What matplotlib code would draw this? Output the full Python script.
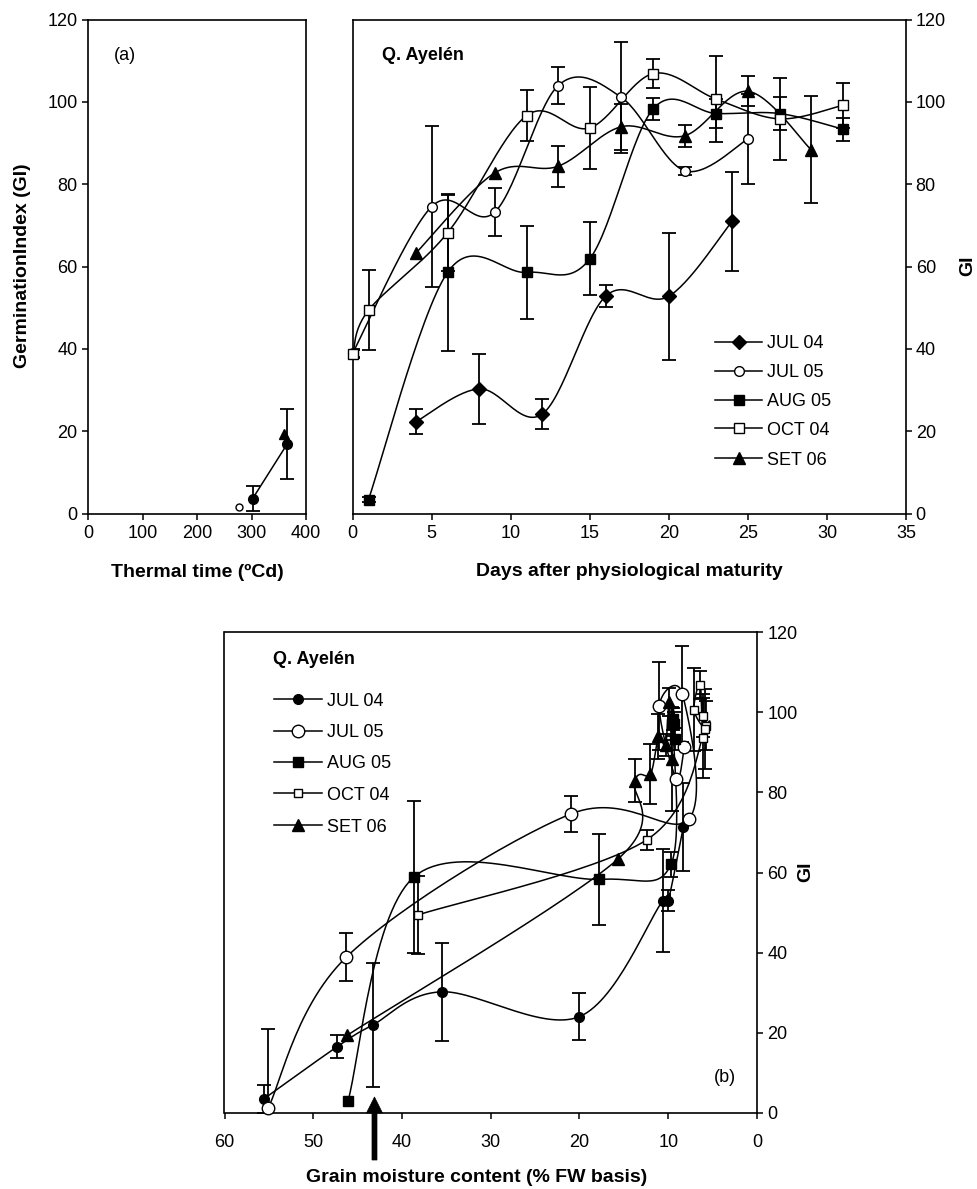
import numpy as np
import matplotlib
matplotlib.use("Agg")
import matplotlib.pyplot as plt
from matplotlib.lines import Line2D
from matplotlib.patches import Polygon
from matplotlib.transforms import Affine2D

plt.rcParams['font.family'] = ['Liberation Sans', 'DejaVu Sans']

# ---------------------------------------------------------------- data
series_names = ["JUL 04", "JUL 05", "AUG 05", "OCT 04", "SET 06"]

# (a) GI before physiological maturity vs thermal time
a_tt_jul04 = [302, 366]
a_gi_jul04 = [3.6, 17.0]
a_err_jul04 = [3.0, 8.5]
a_tt_jul05 = [277]
a_gi_jul05 = [1.6]
a_tt_set06 = [359]
a_gi_set06 = [19.3]

# top right: GI vs days after physiological maturity
days_jul04 = [4, 8, 12, 16, 20, 24]
gi_jul04 = [22.3, 30.3, 24.2, 52.8, 52.8, 71.0]
err_jul04 = [3.0, 8.5, 3.7, 2.7, 15.4, 12.0]

days_jul05 = [0, 5, 9, 13, 17, 21, 25]
gi_jul05 = [39.0, 74.6, 73.3, 104.0, 101.1, 83.3, 91.0]
err_jul05 = [1.0, 19.5, 5.8, 4.5, 13.5, 1.0, 11.0]

days_aug05 = [1, 6, 11, 15, 19, 23, 27, 31]
gi_aug05 = [3.4, 58.6, 58.6, 61.9, 98.3, 97.2, 97.2, 93.4]
err_aug05 = [0.6, 19.0, 11.3, 8.9, 2.7, 3.5, 4.0, 2.8]

days_oct04 = [0, 1, 6, 11, 15, 19, 23, 27, 31]
gi_oct04 = [38.7, 49.4, 68.2, 96.7, 93.7, 106.9, 100.7, 95.9, 99.2]
err_oct04 = [1.0, 9.7, 9.3, 6.2, 10.0, 3.5, 10.4, 10.0, 5.4]

days_set06 = [4, 9, 13, 17, 21, 25, 29]
gi_set06 = [63.3, 82.8, 84.4, 94.0, 91.8, 102.6, 88.4]
err_set06 = [0, 0, 5.0, 5.6, 2.7, 3.6, 13.0]

# (b) GI vs grain moisture content (% FW basis)
b_mc_jul04 = [55.6, 47.3, 43.3, 35.5, 20.0, 10.6, 10.0, 8.3]
b_gi_jul04 = [3.4, 16.5, 21.9, 30.2, 24.0, 53.0, 53.0, 71.4]
b_err_jul04 = [3.5, 2.8, 15.6, 12.3, 5.8, 12.8, 2.7, 11.0]

b_mc_jul05 = [55.1, 46.3, 21.0, 7.7, 8.4, 11.0, 9.1, 8.2]
b_gi_jul05 = [1.1, 38.8, 74.6, 73.3, 104.6, 101.6, 83.4, 91.3]
b_err_jul05 = [19.7, 6.0, 4.5, 0, 12.0, 11.0, 0, 0]

b_mc_aug05 = [46.1, 38.7, 17.8, 9.7, 9.5, 9.3, 9.6, 9.2]
b_gi_aug05 = [2.8, 58.8, 58.3, 62.0, 98.3, 97.2, 97.2, 93.4]
b_err_aug05 = [0, 19.0, 11.3, 3.0, 2.7, 3.0, 4.0, 2.8]

b_mc_oct04 = [38.2, 12.4, 5.7, 6.1, 6.4, 7.1, 5.9, 6.1]
b_gi_oct04 = [49.4, 68.2, 96.7, 93.7, 106.9, 100.7, 95.9, 99.2]
b_err_oct04 = [9.8, 2.5, 6.2, 10.0, 3.5, 10.4, 10.0, 5.4]

b_mc_set06 = [46.2, 15.7, 13.8, 12.0, 11.1, 10.3, 9.9, 9.6]
b_gi_set06 = [19.3, 63.3, 82.9, 84.6, 94.0, 91.8, 102.6, 88.4]
b_err_set06 = [0, 0, 5.4, 7.5, 5.6, 2.7, 3.6, 13.0]

arrow_moisture = 43.1

gi_ticks = [0, 20, 40, 60, 80, 100, 120]
tt_ticks = [0, 100, 200, 300, 400]
day_ticks = [0, 5, 10, 15, 20, 25, 30, 35]
mc_ticks = [60, 50, 40, 30, 20, 10, 0]

# ---------------------------------------------------------------- layout
W, H = 978, 1189
DPI = 100
fig = plt.figure(figsize=(W / DPI, H / DPI), dpi=DPI)
PIX = Affine2D().scale(1, -1).translate(0, H)   # top-left pixel coords
FS = 13
FSB = 14
LW = 1.1


def ax_at(x0, y0, x1, y1):
    return fig.add_axes([x0 / W, 1 - y1 / H, (x1 - x0) / W, (y1 - y0) / H])


def style_axes(ax):
    for s in ax.spines.values():
        s.set_linewidth(1.2)
    ax.tick_params(direction='out', length=4.5, width=1.1, labelsize=FS, colors='k')


def smooth_xy(ax, x, y, n=30):
    pts = ax.transData.transform(np.column_stack([x, y]))
    if len(pts) < 3:
        return np.asarray(x, float), np.asarray(y, float)
    P = np.vstack([pts[0], pts, pts[-1]])
    out = []
    t = np.linspace(0, 1, n, endpoint=False)[:, None]
    for i in range(1, len(P) - 2):
        p0, p1, p2, p3 = P[i - 1], P[i], P[i + 1], P[i + 2]
        c1 = p1 + (p2 - p0) / 6.0
        c2 = p2 - (p3 - p1) / 6.0
        seg = (1 - t) ** 3 * p1 + 3 * (1 - t) ** 2 * t * c1 + 3 * (1 - t) * t ** 2 * c2 + t ** 3 * p2
        out.append(seg)
    out.append(pts[-1][None, :])
    d = ax.transData.inverted().transform(np.vstack(out))
    return d[:, 0], d[:, 1]


def draw_series(ax, x, y, err, marker, ms, filled, smooth=True, mew=1.0):
    x = np.asarray(x, float)
    y = np.asarray(y, float)
    if len(x) > 1:
        sx, sy = smooth_xy(ax, x, y) if smooth else (x, y)
        ax.plot(sx, sy, color='k', lw=LW, zorder=2)
    if err is not None:
        e = np.asarray(err, float)
        m = e > 0
        if m.any():
            ax.errorbar(x[m], y[m], yerr=e[m], fmt='none', ecolor='k',
                        elinewidth=1.3, capsize=4.7, capthick=1.3, zorder=2)
    ax.plot(x, y, ls='none', marker=marker, ms=ms,
            mfc='k' if filled else 'white', mec='k', mew=mew, zorder=3, clip_on=False)


def legend_rows(x0, x1, xm, xt, ys, specs):
    for (label, marker, ms, filled), yy in zip(specs, ys):
        fig.add_artist(Line2D([x0, x1], [yy, yy], color='k', lw=LW, transform=PIX))
        fig.add_artist(Line2D([xm], [yy], marker=marker, ms=ms, ls='none',
                              mfc='k' if filled else 'white', mec='k', mew=1.0,
                              transform=PIX))
        fig.text(xt, yy + 6.5, label, transform=PIX, va='baseline', ha='left', fontsize=FS)


# ---------------------------------------------------------------- panel (a)
ax_a = ax_at(88, 19.7, 306, 513.5)
ax_a.set_xlim(0, 400)
ax_a.set_ylim(0, 120)
ax_a.set_xticks(tt_ticks)
ax_a.set_yticks(gi_ticks)
style_axes(ax_a)
ax_a.tick_params(axis='x', pad=4)
ax_a.tick_params(axis='y', pad=3)
draw_series(ax_a, a_tt_jul04, a_gi_jul04, a_err_jul04, 'o', 7, True, smooth=False)
draw_series(ax_a, a_tt_jul05, a_gi_jul05, None, 'o', 5, False)
draw_series(ax_a, a_tt_set06, a_gi_set06, None, '^', 7.5, True)
ax_a.set_ylabel('GerminationIndex (GI)', fontsize=FSB, fontweight='bold', va='center')
ax_a.yaxis.set_label_coords(23, 266, transform=PIX)
ax_a.set_xlabel('Thermal time (ºCd)', fontsize=FSB, fontweight='bold', va='center')
ax_a.xaxis.set_label_coords(197, 572, transform=PIX)
fig.text(125, 56, '(a)', transform=PIX, fontsize=FS, ha='center', va='center')

# ---------------------------------------------------------------- top right
ax_r = ax_at(352.7, 19.7, 906, 513.5)
ax_r.set_xlim(0, 35)
ax_r.set_ylim(0, 120)
ax_r.set_xticks(day_ticks)
ax_r.set_yticks(gi_ticks)
style_axes(ax_r)
ax_r.tick_params(axis='x', pad=4)
ax_r.tick_params(axis='y', left=False, labelleft=False, right=True, labelright=True, pad=2.5)
draw_series(ax_r, days_jul04, gi_jul04, err_jul04, 'D', 7, True)
draw_series(ax_r, days_jul05, gi_jul05, err_jul05, 'o', 7, False)
draw_series(ax_r, days_aug05, gi_aug05, err_aug05, 's', 7, True)
draw_series(ax_r, days_oct04, gi_oct04, err_oct04, 's', 7, False)
draw_series(ax_r, days_set06, gi_set06, err_set06, '^', 8, True)
ax_r.yaxis.set_label_position('right')
ax_r.set_ylabel('GI', fontsize=FSB, fontweight='bold', va='center', rotation=90)
ax_r.yaxis.set_label_coords(968, 266, transform=PIX)
ax_r.set_xlabel('Days after physiological maturity', fontsize=FSB, fontweight='bold', va='center')
ax_r.xaxis.set_label_coords(629, 572, transform=PIX)
fig.text(382, 56, 'Q. Ayelén', transform=PIX, fontsize=FS, fontweight='bold', ha='left', va='center')
legend_rows(715, 762, 738.5, 767, [341.7, 370.7, 400, 428.3, 458.3],
            [(series_names[0], 'D', 7, True), (series_names[1], 'o', 7, False),
             (series_names[2], 's', 7, True), (series_names[3], 's', 7, False),
             (series_names[4], '^', 8, True)])

# ---------------------------------------------------------------- panel (b)
ax_b = ax_at(224.5, 632.3, 757, 1112.7)
ax_b.set_xlim(60, 0)
ax_b.set_ylim(0, 120)
ax_b.set_xticks(mc_ticks)
ax_b.set_yticks(gi_ticks)
style_axes(ax_b)
ax_b.tick_params(axis='x', pad=11)
ax_b.tick_params(axis='y', left=False, labelleft=False, right=True, labelright=True, pad=3)
draw_series(ax_b, b_mc_jul04, b_gi_jul04, b_err_jul04, 'o', 7, True)
draw_series(ax_b, b_mc_jul05, b_gi_jul05, b_err_jul05, 'o', 9, False)
draw_series(ax_b, b_mc_aug05, b_gi_aug05, b_err_aug05, 's', 6.5, True)
draw_series(ax_b, b_mc_oct04, b_gi_oct04, b_err_oct04, 's', 6, False)
draw_series(ax_b, b_mc_set06, b_gi_set06, b_err_set06, '^', 8, True)
ax_b.yaxis.set_label_position('right')
ax_b.set_ylabel('GI', fontsize=FSB, fontweight='bold', va='center', rotation=90)
ax_b.yaxis.set_label_coords(806, 872, transform=PIX)
ax_b.set_xlabel('Grain moisture content (% FW basis)', fontsize=FSB, fontweight='bold', va='center')
ax_b.xaxis.set_label_coords(477, 1177, transform=PIX)
fig.text(273, 659.5, 'Q. Ayelén', transform=PIX, fontsize=FS, fontweight='bold', ha='left', va='center')
fig.text(725, 1078, '(b)', transform=PIX, fontsize=FS, ha='center', va='center')
legend_rows(274, 322, 298, 327, [699, 730.7, 761.7, 793.3, 825],
            [(series_names[0], 'o', 7, True), (series_names[1], 'o', 9, False),
             (series_names[2], 's', 6.5, True), (series_names[3], 's', 6, False),
             (series_names[4], '^', 8, True)])

# arrow under the moisture axis
xa = ax_b.transData.transform((arrow_moisture, 0))[0]
arrow = Polygon([(xa - 2.5, 1160), (xa - 2.5, 1113), (xa - 8, 1113), (xa, 1097),
                 (xa + 8, 1113), (xa + 2.5, 1113), (xa + 2.5, 1160)],
                closed=True, facecolor='k', edgecolor='k', lw=0.5, transform=PIX)
fig.add_artist(arrow)

fig.savefig('out.png', dpi=DPI)
